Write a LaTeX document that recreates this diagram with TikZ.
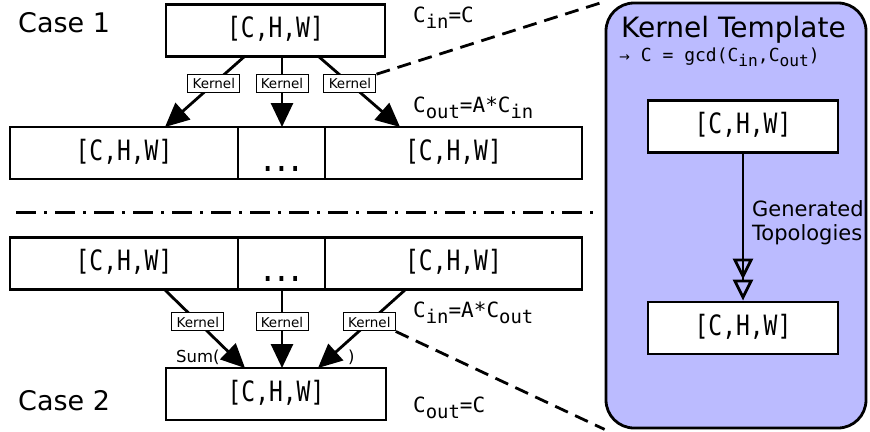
\documentclass[tikz,border=0pt]{standalone}
\usepackage{fontspec}
\setmainfont{DejaVu Sans}
\newfontfamily\cwmono[FakeStretch=0.82]{DejaVu Sans Mono}
\newfontfamily\lblmono{DejaVu Sans Mono}
\usetikzlibrary{arrows.meta}
\definecolor{tmplblue}{RGB}{187,187,255}
\newcommand{\lowtxt}[1]{\raisebox{-0.3em}{\scalebox{0.9}{#1}}}

\begin{document}
\begin{tikzpicture}[x=1pt,y=-1pt]
	\useasboundingbox (0,0) rectangle (870,431);
	% template panel on the right
	\node[draw, line width=2.8pt, fill=tmplblue, rounded corners=28pt,
		minimum width=260pt, minimum height=425pt] (tmpl) at (736,215.5) {};
	\begin{scope}[every node/.style = {draw, line width=2.8pt, fill=white,
			inner sep=0pt, minimum height=52pt, text height=19pt, text depth=5pt,
			font=\cwmono\fontsize{28}{28}\selectfont}]
		\node[minimum width=219pt] (top) at (275.5,30.5) {[C,H,W]};
		\node[minimum width=228pt] (r1a) at (124,153) {[C,H,W]};
		\node[minimum width=87pt] (r1b) at (281.5,153) {\bfseries\raisebox{-11pt}{...}};
		\node[minimum width=257pt] (r1c) at (453.5,153) {[C,H,W]};
		\node[minimum width=228pt] (r2a) at (124,263.5) {[C,H,W]};
		\node[minimum width=87pt] (r2b) at (281.5,263.5) {\bfseries\raisebox{-11pt}{...}};
		\node[minimum width=257pt] (r2c) at (453.5,263.5) {[C,H,W]};
		\node[minimum width=220pt] (bot) at (276,394) {[C,H,W]};
		\node[minimum width=190pt] (in1) at (743,126.5) {[C,H,W]};
		\node[minimum width=190pt] (in2) at (743,328) {[C,H,W]};
	\end{scope}
	% arrow ends
	\coordinate (t1) at (245,56);
	\coordinate (t2) at (282,56);
	\coordinate (t3) at (318,56);
	\coordinate (u1) at (165,127);
	\coordinate (u2) at (282,127);
	\coordinate (u3) at (400,127);
	\coordinate (b1) at (165,290);
	\coordinate (b2) at (282,290);
	\coordinate (b3) at (405,290);
	\coordinate (v1) at (245,368);
	\coordinate (v2) at (282,368);
	\coordinate (v3) at (318,368);
	\begin{scope}[>={Triangle[length=24pt,width=22pt]},
			every edge/.style={draw=black, line width=2.8pt},
			kernel/.style={draw, fill=white, line width=1pt, inner sep=1.5pt,
				minimum width=52pt, minimum height=18pt, font=\fontsize{13.5}{13.5}\selectfont}]
		\path [->] (t1) edge node[kernel, pos=0.39] (k1) {Kernel} (u1);
		\path [->] (t2) edge node[kernel, pos=0.39] (k2) {Kernel} (u2);
		\path [->] (t3) edge node[kernel, pos=0.39] (k3) {Kernel} (u3);
		\path [->] (b1) edge node[kernel, pos=0.41] (k4) {Kernel} (v1);
		\path [->] (b2) edge node[kernel, pos=0.41] (k5) {Kernel} (v2);
		\path [->] (b3) edge node[kernel, pos=0.41] (k6) {Kernel} (v3);
		\path [-{Triangle[open,length=21pt,width=20pt]Triangle[open,length=21pt,width=20pt]}]
			(in1) edge (in2);
	\end{scope}
	% zoom-in lines and separator
	\draw[dash pattern=on 14pt off 8pt, line width=2.8pt] (k3.north east) -- (tmpl.north west);
	\draw[dash pattern=on 14pt off 8pt, line width=2.8pt] (k6.south east) -- (tmpl.south west);
	\coordinate (sepL) at (16,212);
	\coordinate (sepR) at (598,212);
	\draw[dash pattern=on 20pt off 8pt on 3pt off 8pt, line width=3pt] (sepL) -- (sepR);
	% texts
	\node[anchor=base west, inner sep=0pt, font=\fontsize{27}{27}\selectfont] (case1) at (18,32) {Case 1};
	\node[anchor=base west, inner sep=0pt, font=\fontsize{27}{27}\selectfont] (case2) at (18,410) {Case 2};
	\begin{scope}[every node/.style={anchor=base west, inner sep=0pt,
			font=\lblmono\fontsize{21}{21}\selectfont}]
		\node (cin1) at (413,22) {C\lowtxt{in}=C};
		\node (cout1) at (413,112) {C\lowtxt{out}=A*C\lowtxt{in}};
		\node (cin2) at (413,317) {C\lowtxt{in}=A*C\lowtxt{out}};
		\node (cout2) at (413,412) {C\lowtxt{out}=C};
	\end{scope}
	\node[anchor=base west, inner sep=0pt, font=\fontsize{28}{28}\selectfont] (ktitle) at (621,37) {Kernel Template};
	\node[anchor=base west, inner sep=0pt, font=\lblmono\fontsize{18}{18}\selectfont] (kgcd) at (619,61)
		{{\fontsize{13}{13}\selectfont\rmfamily →} C = gcd(C\lowtxt{in},C\lowtxt{out})};
	\node[anchor=base west, inner sep=0pt, align=left, font=\fontsize{21}{24}\selectfont] (gen) at (752,240)
		{Generated\\Topologies};
	\node[anchor=base west, inner sep=0pt, font=\fontsize{16.5}{16.5}\selectfont] (sumo) at (176,362) {Sum(};
	\node[anchor=base west, inner sep=0pt, font=\fontsize{16.5}{16.5}\selectfont] (sumc) at (348,362) {)};
\end{tikzpicture}
\end{document}
